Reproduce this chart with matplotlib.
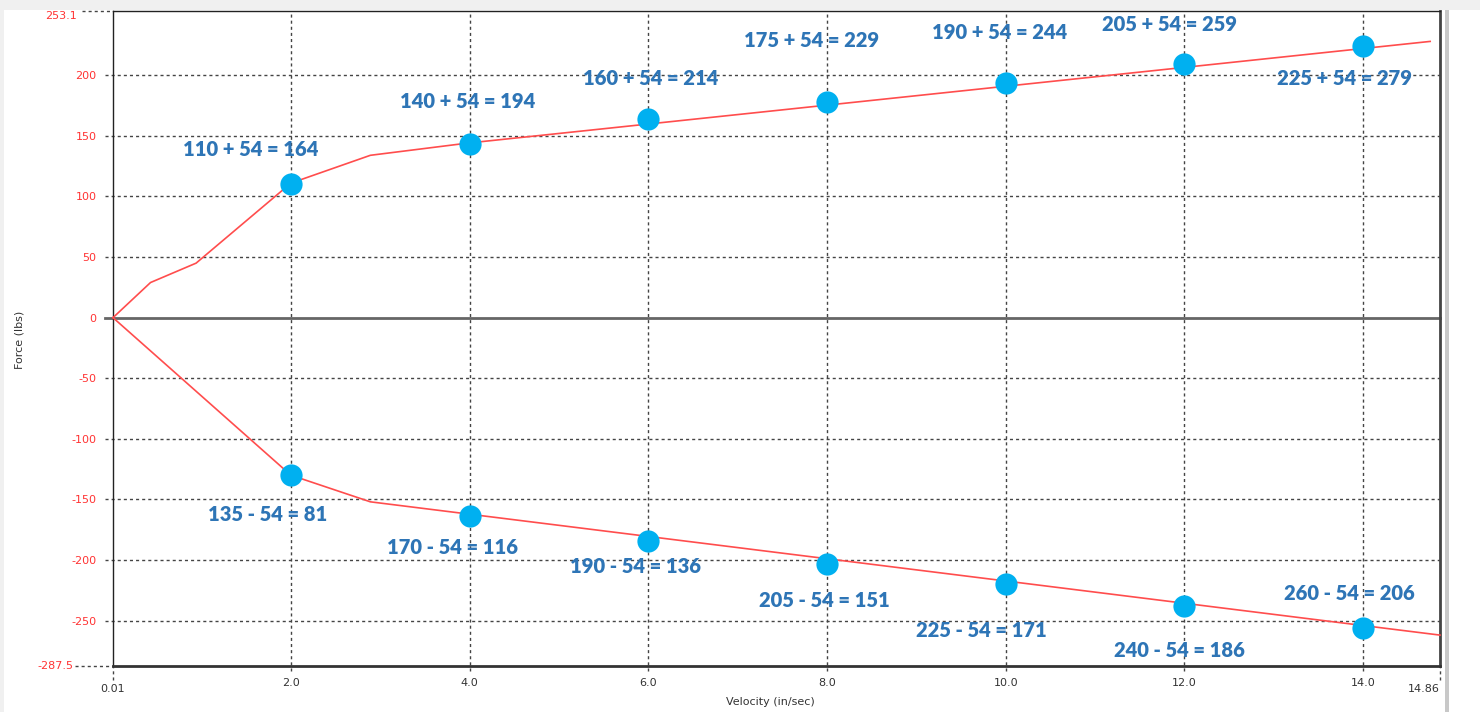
import matplotlib
matplotlib.use("Agg")
import matplotlib.pyplot as plt
import matplotlib.transforms as mtransforms
from matplotlib.patches import Rectangle

# ---- data ----
x_min, x_max = 0.01, 14.86
y_min, y_max = -287.5, 253.1

# rebound (upper) curve and compression (lower) curve
upper_x = [0.01, 0.43, 0.94, 2.0, 2.89, 3.97, 14.75]
upper_y = [0, 29, 45, 111, 134, 144, 228]
lower_x = [0.01, 2.0, 2.89, 14.86]
lower_y = [0, -130, -152, -262]

# measured points
pt_x = [2, 4, 6, 8, 10, 12, 14]
pt_upper = [110, 143, 164, 178, 194, 209, 224]
pt_lower = [-130, -164, -184, -203, -220, -238, -256]

upper_labels = ["110 + 54 = 164", "140 + 54 = 194", "160 + 54 = 214",
                "175 + 54 = 229", "190 + 54 = 244", "205 + 54 = 259",
                "225 + 54 = 279"]
lower_labels = ["135 - 54 = 81", "170 - 54 = 116", "190 - 54 = 136",
                "205 - 54 = 151", "225 - 54 = 171", "240 - 54 = 186",
                "260 - 54 = 206"]
# label offsets from their marker, in pixels (dx, dy up)
upper_off = [(-40, 35), (-2, 43), (2, 40), (-15, 61), (-6, 50), (-15, 40), (-19, -32)]
lower_off = [(-23, -39), (-17, -31), (-13, -26), (-3, -37), (-24, -46), (-5, -44), (-14, 34)]

x_ticks = [2, 4, 6, 8, 10, 12, 14]
x_ticklabels = ["2.0", "4.0", "6.0", "8.0", "10.0", "12.0", "14.0"]
y_ticks = [-250, -200, -150, -100, -50, 0, 50, 100, 150, 200]

LINE_RED = "#ff4d4d"
TICK_RED = "#ff3333"
DOT_BLUE = "#00b0f0"
TEXT_BLUE = "#2e75b6"
GRID = "#444444"
TICK_SIZE = 8

fig = plt.figure(figsize=(14.8, 7.12), dpi=100)
fig.patch.set_facecolor("white")
ax = fig.add_axes([113/1480, 46/712, 1327/1480, 655/712])
ax.set_xlim(x_min, x_max)
ax.set_ylim(y_min, y_max)

# window chrome of the screenshot
fig.patches.append(Rectangle((0, 702/712), 1, 10/712, transform=fig.transFigure,
                             facecolor="#f0f0f0", edgecolor="none", zorder=0))
fig.patches.append(Rectangle((0, 0), 4/1480, 1, transform=fig.transFigure,
                             facecolor="#f0f0f0", edgecolor="none", zorder=0))
fig.patches.append(Rectangle((1445/1480, 0), 4/1480, 702/712, transform=fig.transFigure,
                             facecolor="#c8c8c8", edgecolor="none", zorder=0))

dash = (0, (2.2, 2.2))
for yv in y_ticks:
    if yv == 0:
        ax.axhline(0, xmin=-0.006, xmax=1, color="#666666", lw=2.0, clip_on=False, zorder=1)
    else:
        ax.axhline(yv, xmin=-0.006, xmax=1, color=GRID, lw=1.0, ls=dash, clip_on=False, zorder=1)
for xv in x_ticks:
    ax.axvline(xv, ymin=-0.008, ymax=1, color=GRID, lw=1.0, ls=dash, clip_on=False, zorder=1)

# longer dashed edge ticks
ytr = mtransforms.blended_transform_factory(ax.transAxes, ax.transData)
xtr = mtransforms.blended_transform_factory(ax.transData, ax.transAxes)
ax.plot([-0.023, 0], [y_max, y_max], transform=ytr, color=GRID, lw=1.0, ls=dash, clip_on=False)
ax.plot([-0.029, 0], [y_min, y_min], transform=ytr, color=GRID, lw=1.0, ls=dash, clip_on=False)
ax.plot([x_min, x_min], [-0.022, 0], transform=xtr, color=GRID, lw=1.0, ls=dash, clip_on=False)
ax.plot([x_max, x_max], [-0.022, 0], transform=xtr, color=GRID, lw=1.0, ls=dash, clip_on=False)

ax.plot(upper_x, upper_y, color=LINE_RED, lw=1.2, zorder=3, clip_on=False)
ax.plot(lower_x, lower_y, color=LINE_RED, lw=1.2, zorder=3, clip_on=False)

ax.plot(pt_x, pt_upper, "o", color=DOT_BLUE, ms=16, mec="none", zorder=4)
ax.plot(pt_x, pt_lower, "o", color=DOT_BLUE, ms=16, mec="none", zorder=4)

for xs, ys, labels, offs in [(pt_x, pt_upper, upper_labels, upper_off),
                             (pt_x, pt_lower, lower_labels, lower_off)]:
    for xv, yv, lab, (dx, dy) in zip(xs, ys, labels, offs):
        ax.annotate(lab, (xv, yv), xytext=(dx, dy), textcoords="offset pixels",
                    ha="center", va="center", fontsize=14.5, fontweight="heavy",
                    color=TEXT_BLUE, family="Lato", zorder=5)

# ticks
ax.set_xticks(x_ticks)
ax.set_xticklabels(x_ticklabels)
ax.set_yticks(y_ticks)
ax.set_yticklabels([str(v) for v in y_ticks])
ax.tick_params(axis="x", length=0, pad=9, labelsize=TICK_SIZE, labelcolor="#333333")
ax.tick_params(axis="y", length=0, pad=12, labelsize=TICK_SIZE, labelcolor=TICK_RED)

ax.text(-0.027, y_max, "253.1", transform=ytr, ha="right", va="top",
        fontsize=TICK_SIZE, color=TICK_RED)
ax.text(-0.030, y_min, "-287.5", transform=ytr, ha="right", va="center",
        fontsize=TICK_SIZE, color=TICK_RED)
ax.text(x_min, -0.028, "0.01", transform=xtr, ha="center", va="top",
        fontsize=TICK_SIZE, color="#333333")
ax.text(x_max, -0.028, "14.86", transform=xtr, ha="right", va="top",
        fontsize=TICK_SIZE, color="#333333")

fig.text(770/1480, 10/712, "Velocity (in/sec)", ha="center", va="center",
         fontsize=TICK_SIZE, color="#333333")
fig.text(20/1480, 372/712, "Force (lbs)", ha="center", va="center", rotation=90,
         fontsize=TICK_SIZE, color="#333333")

for side in ["left", "top"]:
    ax.spines[side].set_color("#222222")
    ax.spines[side].set_linewidth(1.0)
ax.spines["bottom"].set_color("#333333")
ax.spines["bottom"].set_linewidth(2.0)
ax.spines["right"].set_color("#444444")
ax.spines["right"].set_linewidth(2.0)

fig.savefig("out.png", dpi=100)
